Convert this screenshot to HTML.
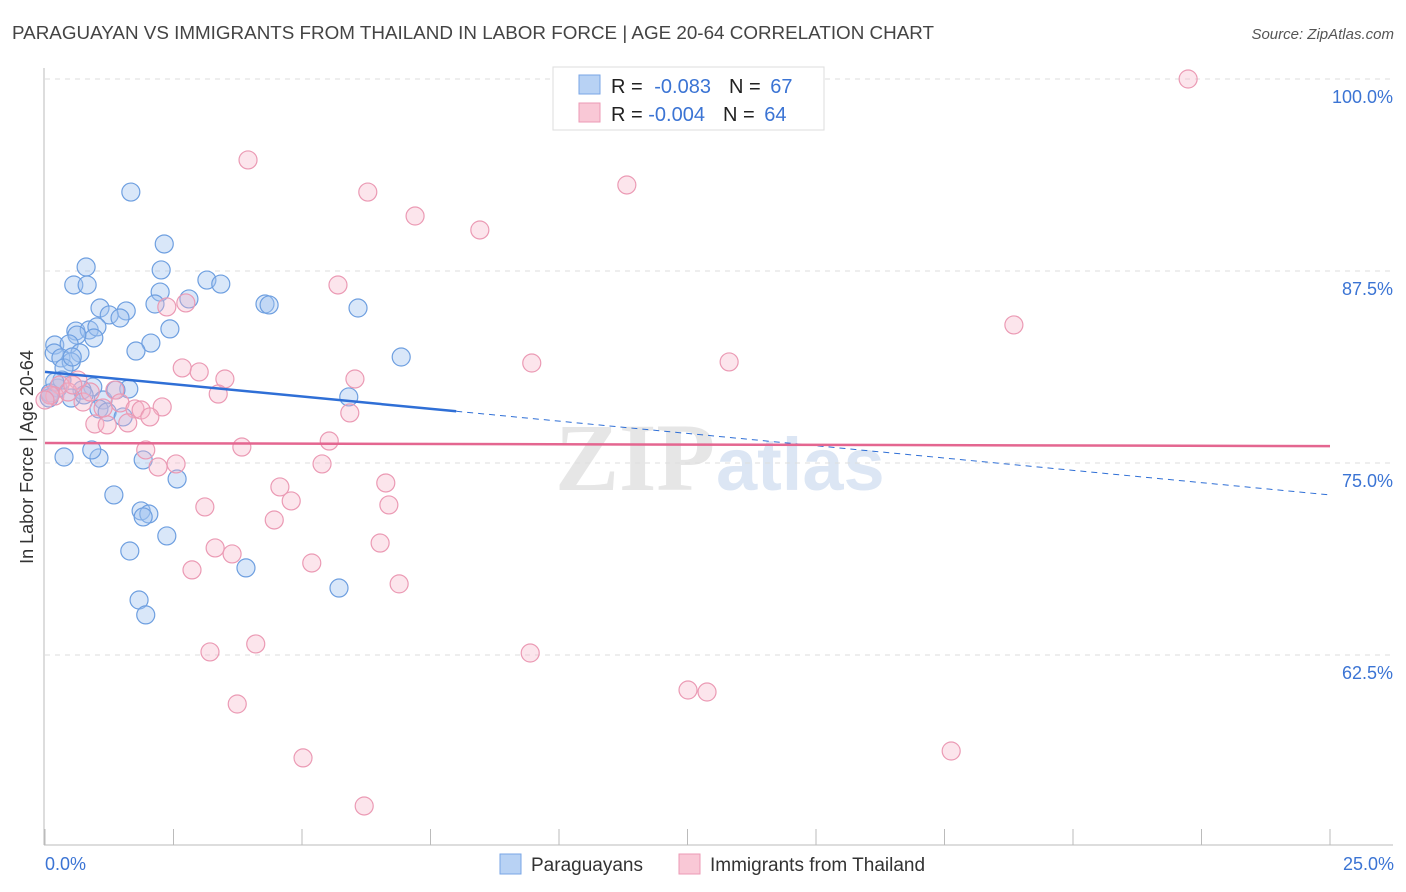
<!DOCTYPE html>
<html><head><meta charset="utf-8"><style>
body{margin:0;background:#fff;font-family:"Liberation Sans",sans-serif}
#wrap{position:relative;width:1406px;height:892px;overflow:hidden}
</style></head><body>
<div id="wrap">
<svg id="svg" width="1406" height="892" xmlns="http://www.w3.org/2000/svg">
<text x="12" y="39" font-size="18" fill="#444" textLength="922" lengthAdjust="spacingAndGlyphs">PARAGUAYAN VS IMMIGRANTS FROM THAILAND IN LABOR FORCE | AGE 20-64 CORRELATION CHART</text>
<text x="1394" y="39" font-size="15" fill="#555" font-style="italic" text-anchor="end">Source: ZipAtlas.com</text>
<text x="715" y="490" font-size="96" fill="#e6e6e6" text-anchor="end" font-family="Liberation Serif" font-weight="bold">ZIP</text>
<text x="716" y="490" font-size="74" fill="#dce6f4" font-weight="bold">atlas</text>
<text transform="translate(33,457) rotate(-90)" font-size="18" fill="#333" text-anchor="middle">In Labor Force | Age 20-64</text>
<g id="grid"></g><g id="pts"></g><g id="trend"></g>
<g>
<rect x="553" y="67" width="271" height="63" fill="#fff" stroke="#ddd"/>
<rect x="579" y="75" width="21" height="19" fill="#b8d2f4" stroke="#78a6e6"/>
<rect x="579" y="103" width="21" height="19" fill="#f9c8d6" stroke="#ec9ab5"/>
<text x="611" y="93" font-size="20" fill="#222">R = <tspan fill="#3b74d4" dx="6">-0.083</tspan><tspan fill="#222" dx="18">N = </tspan><tspan fill="#3b74d4" dx="4">67</tspan></text>
<text x="611" y="121" font-size="20" fill="#222">R = <tspan fill="#3b74d4">-0.004</tspan><tspan fill="#222" dx="18">N = </tspan><tspan fill="#3b74d4" dx="4">64</tspan></text>
</g>
<g>
<rect x="500" y="854" width="21" height="20" fill="#b8d2f4" stroke="#78a6e6"/>
<text x="531" y="871" font-size="19" fill="#333">Paraguayans</text>
<rect x="679" y="854" width="21" height="20" fill="#f9c8d6" stroke="#ec9ab5"/>
<text x="710" y="871" font-size="19" fill="#333">Immigrants from Thailand</text>
</g>
<text x="45" y="870" font-size="18" fill="#3b74d4">0.0%</text>
<text x="1394" y="870" font-size="18" fill="#3b74d4" text-anchor="end">25.0%</text>
</svg></div>
<script>
const yTicks=[100,87.5,75,62.5];
const yTickLabels=["100.0%","87.5%","75.0%","62.5%"];
const xTicks=[0,2.5,5,7.5,10,12.5,15,17.5,20,22.5,25];
const blueX=[1.67,2.32,0.80,2.26,0.56,0.82,3.15,3.42,2.24,2.80,2.14,4.28,4.36,1.07,1.58,1.25,1.46,6.09,0.60,0.86,1.01,2.43,0.95,0.62,2.06,0.19,0.47,1.77,0.68,0.18,0.31,0.51,6.93,0.37,0.93,1.63,0.72,0.25,0.10,1.13,5.91,1.05,1.21,1.52,0.08,0.37,1.05,1.91,0.91,2.57,1.34,1.87,2.02,1.91,2.37,1.65,3.91,1.83,1.96,5.72,0.51,0.76,0.53,0.33,0.19,0.10,1.38];
const blueY=[92.64,89.26,87.76,87.57,86.59,86.59,86.91,86.65,86.13,85.68,85.35,85.35,85.29,85.09,84.90,84.64,84.44,85.09,83.59,83.66,83.86,83.73,83.14,83.33,82.81,82.68,82.75,82.29,82.16,82.16,81.84,81.58,81.90,81.19,79.95,79.82,79.75,79.88,79.56,79.10,79.30,78.52,78.32,78.00,79.23,75.39,75.33,75.20,75.85,73.96,72.92,71.88,71.68,71.49,70.25,69.27,68.17,66.08,65.11,66.86,79.23,79.43,81.90,80.40,80.27,79.43,79.75];
const pinkX=[22.24,3.95,6.28,11.32,7.20,8.46,5.70,18.85,2.37,2.74,9.47,13.31,2.67,3.00,3.50,6.03,3.37,1.36,0.64,0.29,0.19,1.46,0.74,1.75,2.28,1.87,5.93,2.04,0.97,1.21,1.61,1.13,5.53,3.83,1.96,2.55,2.20,5.39,6.63,4.57,4.79,3.11,6.69,4.46,3.31,3.64,6.52,5.19,2.86,6.89,3.21,4.10,9.44,12.51,12.88,3.74,17.63,5.02,6.21,0.10,0.0,0.45,0.54,0.88];
const pinkY=[100.0,94.73,92.64,93.10,91.08,90.17,86.59,83.99,85.16,85.42,81.51,81.58,81.19,80.93,80.47,80.47,79.49,79.75,80.40,80.08,79.36,78.91,78.97,78.52,78.65,78.45,78.26,78.00,77.54,77.48,77.61,78.58,76.43,76.04,75.85,74.94,74.74,74.94,73.70,73.44,72.53,72.14,72.27,71.29,69.47,69.08,69.79,68.49,68.04,67.13,62.70,63.22,62.63,60.22,60.09,59.31,56.25,55.80,52.67,79.43,79.10,79.62,80.08,79.62];
const blueTrend=[80.93,72.92];
const pinkTrend=[76.30,76.10];
const NS="http://www.w3.org/2000/svg";
const X=v=>45+v/25*1285;
const Y=v=>79+(100-v)/12.5*192;
function mk(t,a,p){const e=document.createElementNS(NS,t);for(const k in a)e.setAttribute(k,a[k]);p.appendChild(e);return e;}
const grid=document.getElementById('grid');
yTicks.forEach((t,i)=>{
 const l=mk('line',{x1:45,x2:1393,y1:Y(t),y2:Y(t),stroke:'#ddd','stroke-dasharray':'5,5'},grid);
 
 
 const tx=mk('text',{x:1393,y:Y(t)+24,'font-size':18,fill:'#3b74d4','text-anchor':'end'},grid);
 tx.textContent=yTickLabels[i];
 
 
});
const ax=mk('line',{x1:44,x2:44,y1:68,y2:845,stroke:'#bbb'},grid);


const bx=mk('line',{x1:44,x2:1393,y1:845,y2:845,stroke:'#bbb'},grid);


xTicks.forEach(t=>{
 const l=mk('line',{x1:X(t),x2:X(t),y1:829,y2:845,stroke:'#bbb'},grid);
 
 
});
const pts=document.getElementById('pts');
blueX.forEach((v,i)=>{
 const c=mk('circle',{cx:X(v),cy:Y(blueY[i]),r:9,fill:'rgba(160,196,240,0.4)',stroke:'#6e9fe0','stroke-width':1.2},pts);
 
 
});
pinkX.forEach((v,i)=>{
 const c=mk('circle',{cx:X(v),cy:Y(pinkY[i]),r:9,fill:'rgba(246,180,200,0.35)',stroke:'#eb9ab4','stroke-width':1.2},pts);
 
 
});
const tr=document.getElementById('trend');
const bAt=x=>blueTrend[0]+(blueTrend[1]-blueTrend[0])*x/25;
const b1=mk('line',{x1:X(0),y1:Y(bAt(0)),x2:X(8),y2:Y(bAt(8)),stroke:'#2f6fd6','stroke-width':2.5},tr);


const b2=mk('line',{x1:X(8),y1:Y(bAt(8)),x2:X(25),y2:Y(bAt(25)),stroke:'#2f6fd6','stroke-width':1,'stroke-dasharray':'6,5'},tr);


const p1=mk('line',{x1:X(0),y1:Y(pinkTrend[0]),x2:X(25),y2:Y(pinkTrend[1]),stroke:'#e46690','stroke-width':2.5},tr);


</script>
</body></html>
